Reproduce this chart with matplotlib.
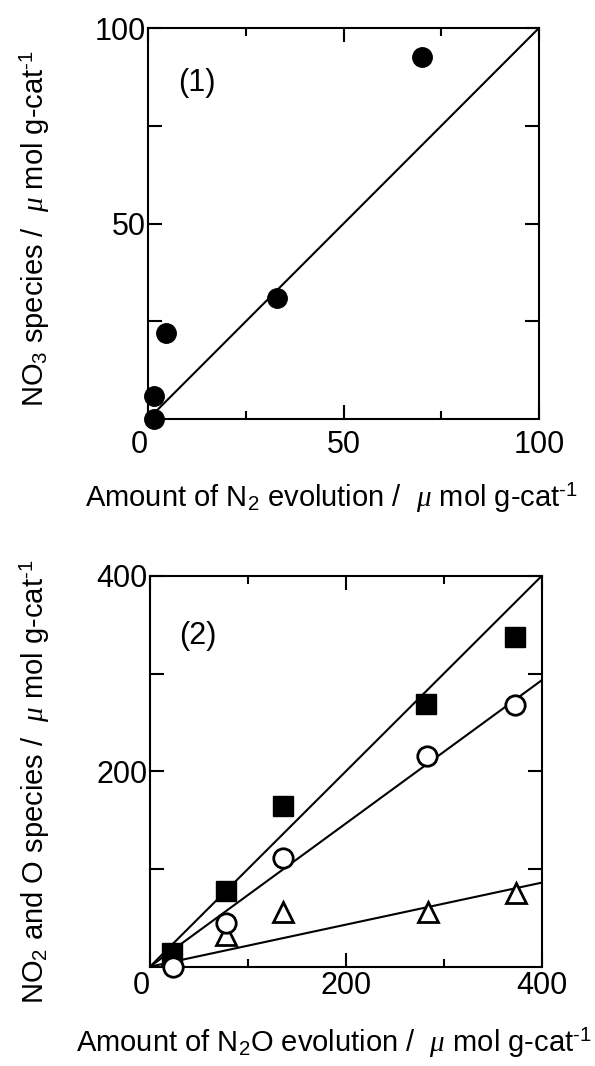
import matplotlib
matplotlib.use("Agg")
import numpy as np
import matplotlib.pyplot as plt
from matplotlib import font_manager

# panel (1): NO3 species vs N2 evolution
n2_evolution = [1.5, 1.5, 4.5, 33, 70]
no3_species = [0, 6, 22, 31, 92.5]
fit1_slope = 1.0

# panel (2): NO2 / O species vs N2O evolution
n2o_x = [22, 78, 136, 282, 373]
squares_y = [14, 77, 164, 269, 338]
circles_x = [23, 78, 136, 283, 373]
circles_y = [0, 45, 111, 216, 268]
triangles_x = [22, 78, 136, 284, 374]
triangles_y = [12, 32, 56, 56, 75]
fit2_slopes = [1.0, 0.733, 0.215]

names = {f.name for f in font_manager.fontManager.ttflist}
narrow = 'Liberation Sans Narrow' if 'Liberation Sans Narrow' in names else 'Liberation Sans'

plt.rcParams['font.family'] = ['Liberation Sans', 'DejaVu Sans']
plt.rcParams['mathtext.fontset'] = 'custom'
plt.rcParams['mathtext.rm'] = 'Liberation Sans'
plt.rcParams['mathtext.it'] = 'Liberation Serif:italic'
plt.rcParams['mathtext.bf'] = 'Liberation Sans:bold'

fig = plt.figure(figsize=(5.95, 10.66), dpi=100)
ax1 = fig.add_axes([0.2492, 0.6069, 0.6566, 0.3668])
ax2 = fig.add_axes([0.2521, 0.0932, 0.6583, 0.3665])

unit = '/  $\\mu$ mol g-cat$^{\u2010 1}$'


def style_axes(ax, lim, step, xpad):
    ax.set_xlim(0, lim)
    ax.set_ylim(0, lim)
    for s in ax.spines.values():
        s.set_linewidth(1.5)
    ax.set_xticks([0, lim / 2, lim])
    ax.set_xticks([step, 3 * step], minor=True)
    ax.set_yticks([step, 2 * step, 3 * step, 4 * step])
    ax.set_yticklabels(['', str(int(2 * step)), '', str(int(4 * step))])
    ax.set_xticklabels(['0', str(int(lim / 2)), str(int(lim))])
    ax.tick_params(which='both', direction='in', top=True, right=True, width=1.5)
    ax.tick_params(which='major', length=10)
    ax.tick_params(which='minor', length=6)
    ax.tick_params(axis='x', which='major', pad=xpad)
    ax.tick_params(axis='y', pad=2)
    for lab in ax.get_xticklabels() + ax.get_yticklabels():
        lab.set_fontfamily(narrow)
        lab.set_fontsize(22)
    # the corner "0" is shared by both axes
    ax.get_xticklabels()[0].set_ha('right')


# panel 1
xs = np.array([0, 100])
ax1.plot(xs, fit1_slope * xs, color='black', lw=1.5, zorder=2)
ax1.plot(n2_evolution, no3_species, 'o', color='black', ms=14, clip_on=False, zorder=3)
style_axes(ax1, 100, 25, 8)
ax1.text(12.5, 86, '(1)', fontsize=22, ha='center', va='center')
ax1.set_xlabel('Amount of N$_2$ evolution ' + unit, fontsize=21)
ax1.set_ylabel('NO$_3$ species ' + unit, fontsize=21)
ax1.xaxis.set_label_coords(0.47, -0.158)
ax1.yaxis.set_label_coords(-0.246, 0.488)

# panel 2
xs = np.array([0, 400])
for k in fit2_slopes:
    ax2.plot(xs, k * xs, color='black', lw=1.5, zorder=2)
ax2.plot(triangles_x, triangles_y, '^', mfc='white', mec='black', mew=2, ms=15,
         clip_on=False, zorder=3)
ax2.plot(n2o_x, squares_y, 's', color='black', ms=14, clip_on=False, zorder=4)
ax2.plot(circles_x, circles_y, 'o', mfc='white', mec='black', mew=2, ms=14,
         clip_on=False, zorder=5)
style_axes(ax2, 400, 100, 3)
ax2.text(49, 339, '(2)', fontsize=22, ha='center', va='center')
ax2.set_xlabel('Amount of N$_2$O evolution ' + unit, fontsize=21)
ax2.set_ylabel('NO$_2$ and O species ' + unit, fontsize=21)
ax2.xaxis.set_label_coords(0.47, -0.152)
ax2.yaxis.set_label_coords(-0.25, 0.473)

fig.savefig('out.png', dpi=100)
